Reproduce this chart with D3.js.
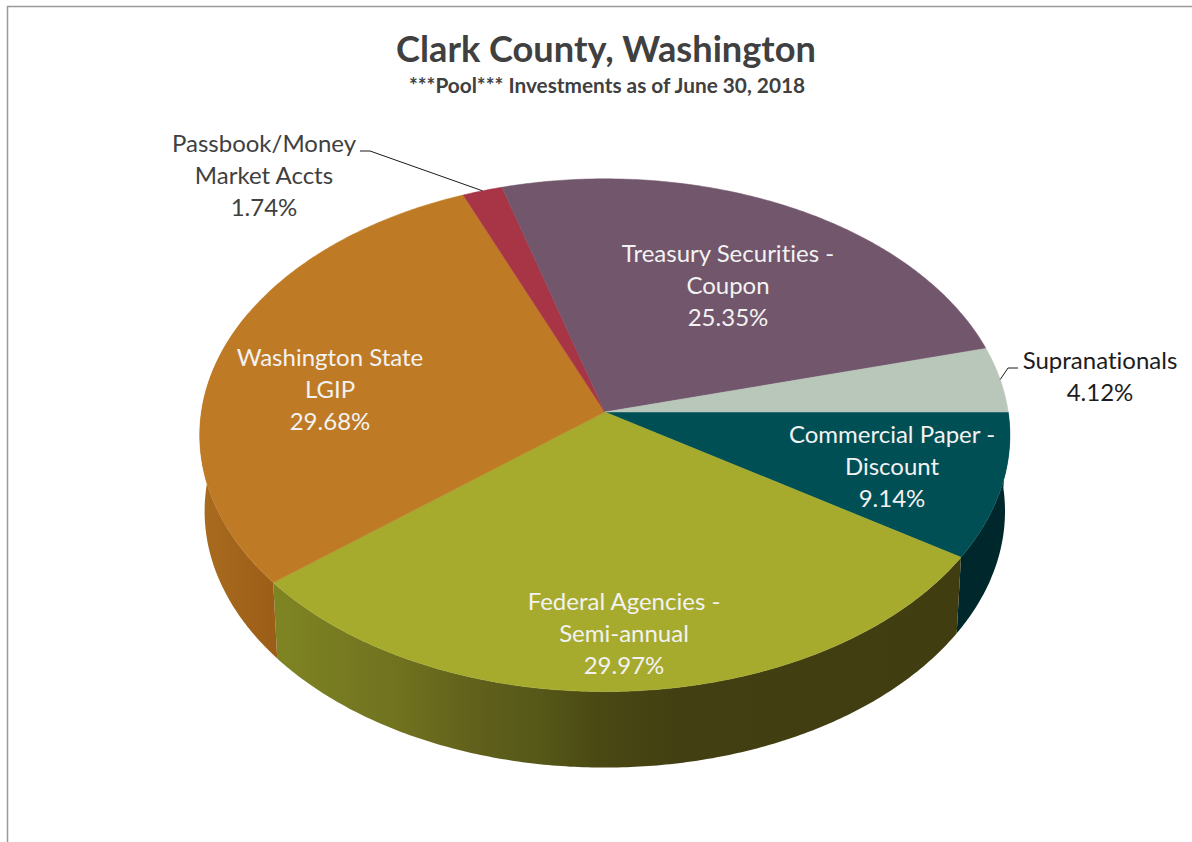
<!DOCTYPE html>
<html>
<head>
<meta charset="utf-8">
<title>Clark County, Washington</title>
<script src="https://cdn.jsdelivr.net/npm/d3@7/dist/d3.min.js"></script>
<style>
  html, body { margin: 0; padding: 0; background: #fff; }
  svg { display: block; }
  text { font-family: Lato, "Open Sans", sans-serif; font-variant-ligatures: none; }
</style>
</head>
<body>
<svg id="chart" width="1192" height="842"></svg>
<script>
// Portfolio shares, clockwise from the three o'clock position
const categories = [
  "Commercial Paper - Discount",
  "Federal Agencies - Semi-annual",
  "Washington State LGIP",
  "Passbook/Money Market Accts",
  "Treasury Securities - Coupon",
  "Supranationals"
];
const shares = [9.14, 29.97, 29.68, 1.74, 25.35, 4.12];
const labelLines = [
  ["Commercial Paper -", "Discount"],
  ["Federal Agencies -", "Semi-annual"],
  ["Washington State", "LGIP"],
  ["Passbook/Money", "Market Accts"],
  ["Treasury Securities -", "Coupon"],
  ["Supranationals"]
];
const topColors = ["#004f55", "#a6ab2e", "#bf7a25", "#a83546", "#72566c", "#b9c7bb"];

// Label placement: centre x and centre y of the first line
const labelAnchors = [[892, 434], [624, 601], [330, 357], [264, 143], [728, 253], [1100, 360]];
const labelFill = ["#f2f2f2", "#f2f2f2", "#f2f2f2", "#404040", "#f2f2f2", "#1c1c1c"];

// Tilted-disc geometry
const cx = 604.8, cy = 412, radiusX = 403.4, radiusY = 254.3, perspective = 0.0905;
const depth = 76, baseShrink = 0.988;

const svg = d3.select("#chart");
const defs = svg.append("defs");

// Perspective projection of a disc point at angle a (clockwise from north)
function project(a, level) {
  const x = Math.sin(a), y = -Math.cos(a), w = 1 - perspective * y;
  if (level === "top") return [cx + radiusX * x / w, cy + radiusY * y / w];
  return [cx + baseShrink * radiusX * x / w, cy + depth + radiusY * y / w];
}

function arcPoints(a0, a1, level) {
  const n = Math.max(2, Math.ceil(Math.abs(a1 - a0) / 0.01));
  return d3.range(n + 1).map(i => project(a0 + (a1 - a0) * i / n, level));
}

const outline = d3.line();
const pie = d3.pie().sort(null).startAngle(Math.PI / 2).endAngle(Math.PI * 2.5);
const slices = pie(shares);

// Side-wall shading runs left to right across the disc
const wallStops = {
  1: [[277, "#7f8423"], [400, "#70721f"], [470, "#62611c"], [540, "#555818"], [600, "#4a4813"], [680, "#423f12"], [960, "#403d10"]],
  2: [[200, "#a96c1e"], [275, "#9c5d18"]],
  0: [[955, "#00272b"], [1005, "#00282c"]]
};
Object.entries(wallStops).forEach(([i, stops]) => {
  const x0 = stops[0][0], x1 = stops[stops.length - 1][0];
  const g = defs.append("linearGradient")
    .attr("id", "wall" + i)
    .attr("gradientUnits", "userSpaceOnUse")
    .attr("x1", x0).attr("x2", x1).attr("y1", 0).attr("y2", 0);
  stops.forEach(s => g.append("stop")
    .attr("offset", (s[0] - x0) / (x1 - x0))
    .attr("stop-color", s[1]));
});

// Frame lines along the top and left edges
svg.append("path")
  .attr("d", "M7.5,842V6.5H1192")
  .attr("fill", "none")
  .attr("stroke", "#999")
  .attr("stroke-width", 1.5);

// Walls of the slices that face the viewer; the top faces cover any overrun
const walls = slices.map((s, i) => ({ s, i })).filter(d => wallStops[d.i]);
svg.append("g").selectAll("path").data(walls).join("path")
  .attr("d", d => {
    const a0 = d.s.startAngle;
    const a1 = d.i === 2 ? Math.min(d.s.endAngle, a0 + 1.1) : d.s.endAngle;
    return outline(arcPoints(a0, a1, "top").concat(arcPoints(a1, a0, "base"))) + "Z";
  })
  .attr("fill", d => `url(#wall${d.i})`);

// Top faces
svg.append("g").selectAll("path").data(slices).join("path")
  .attr("d", s => outline([[cx, cy]].concat(arcPoints(s.startAngle, s.endAngle, "top"))) + "Z")
  .attr("fill", (s, i) => topColors[i])
  .attr("stroke", (s, i) => topColors[i])
  .attr("stroke-width", 0.5);

// Leader lines for the labels set outside the disc
const midAngle = s => (s.startAngle + s.endAngle) / 2;
const leaders = [
  { slice: 3, from: [[360, 151], [370, 151]] },
  { slice: 5, from: [[1018, 368], [1008, 368]] }
];
svg.append("g").selectAll("path").data(leaders).join("path")
  .attr("d", d => outline(d.from.concat([project(midAngle(slices[d.slice]), "top")])))
  .attr("fill", "none")
  .attr("stroke", "#1a1a1a")
  .attr("stroke-width", 1);

// Category and percentage labels
const lineStep = 32;
const labels = svg.append("g").selectAll("text").data(categories).join("text")
  .attr("text-anchor", "middle")
  .attr("font-size", 24)
  .attr("fill", (c, i) => labelFill[i]);
labels.each(function (c, i) {
  const rows = labelLines[i].concat([shares[i].toFixed(2) + "%"]);
  d3.select(this).selectAll("tspan").data(rows).join("tspan")
    .attr("x", labelAnchors[i][0])
    .attr("y", (r, k) => labelAnchors[i][1] + 9 + k * lineStep)
    .text(r => r);
});

// Titles
svg.append("text")
  .attr("x", 606).attr("y", 62)
  .attr("text-anchor", "middle")
  .attr("font-size", 36.2).attr("font-weight", 700).attr("fill", "#404040")
  .text("Clark County, Washington");
svg.append("text")
  .attr("x", 607).attr("y", 93)
  .attr("text-anchor", "middle")
  .attr("font-size", 20.8).attr("font-weight", 700).attr("fill", "#404040")
  .text("***Pool*** Investments as of June 30, 2018");
</script>
</body>
</html>
